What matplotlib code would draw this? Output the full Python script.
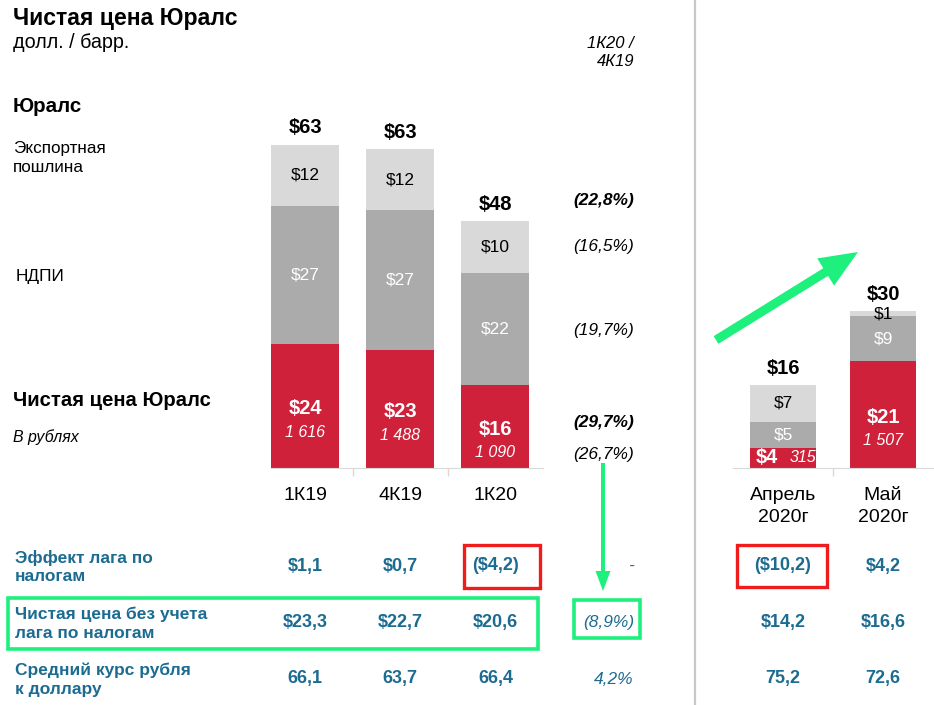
# %% Import and Define
import matplotlib.pyplot as plt
from matplotlib.patches import Rectangle, FancyArrow
from matplotlib.transforms import blended_transform_factory

plt.rcParams['font.family'] = ['Liberation Sans', 'DejaVu Sans']

# %% Data
quarters = ['1К19', '4К19', '1К20']
q_net = [24.3, 23.2, 16.3]
q_ndpi = [27.1, 27.3, 22.0]
q_duty = [12.0, 12.1, 10.1]
q_rub = ['1 616', '1 488', '1 090']

months = ['Апрель\n2020г', 'Май\n2020г']
m_net = [3.9, 20.6]
m_ndpi = [5.0, 8.6]
m_duty = [7.1, 0.9]
m_rub = ['315', '1 507']

change_head = '1К20 /\n4К19'
change_labels = ['(22,8%)', '(16,5%)', '(19,7%)', '(29,7%)', '(26,7%)']

row_names = ['Эффект лага по\nналогам',
             'Чистая цена без учета\nлага по налогам',
             'Средний курс рубля\nк доллару']
lag_q = ['$1,1', '$0,7', '($4,2)']
lag_m = ['($10,2)', '$4,2']
lag_chg = '-'
clean_q = ['$23,3', '$22,7', '$20,6']
clean_m = ['$14,2', '$16,6']
clean_chg = '(8,9%)'
fx_q = ['66,1', '63,7', '66,4']
fx_m = ['75,2', '72,6']
fx_chg = '4,2%'

# colours
RED = '#D0213B'
MID = '#ABABAB'
LIGHT = '#D9D9D9'
BLUE = '#1C6B91'
GREEN = '#1DF07C'
BOXRED = '#EE1C1C'
NARROW = ['Liberation Sans Narrow', 'Liberation Sans']

W, H = 934, 705


# %% Functions
def draw_stack(ax, net, ndpi, duty, rub, width):
    x = list(range(len(net)))
    ax.bar(x, net, width, color=RED, zorder=2)
    ax.bar(x, ndpi, width, bottom=net, color=MID, zorder=2)
    base2 = [a + b for a, b in zip(net, ndpi)]
    ax.bar(x, duty, width, bottom=base2, color=LIGHT, zorder=2)
    for i in x:
        total = net[i] + ndpi[i] + duty[i]
        ax.annotate('$%d' % round(total), (i, total), xytext=(0, 12),
                    textcoords='offset points', ha='center', va='center',
                    fontsize=14.5, fontweight='bold')
        ax.text(i, base2[i] + duty[i] / 2, '$%d' % round(duty[i]),
                ha='center', va='center', fontsize=12.5, color='black', zorder=3)
        ax.text(i, net[i] + ndpi[i] / 2, '$%d' % round(ndpi[i]),
                ha='center', va='center', fontsize=12.5, color='white', zorder=3)
        if net[i] < 8:
            # small segment: value and roubles side by side
            ax.annotate('$%d' % round(net[i]), (i, net[i] / 2), xytext=(-12, 0),
                        textcoords='offset points', ha='center', va='center',
                        fontsize=14.5, fontweight='bold', color='white')
            ax.annotate(rub[i], (i, net[i] / 2), xytext=(14, 0),
                        textcoords='offset points', ha='center', va='center',
                        fontsize=11.5, style='italic', color='white')
        else:
            ax.annotate('$%d' % round(net[i]), (i, net[i] / 2), xytext=(0, -2),
                        textcoords='offset points', ha='center', va='center',
                        fontsize=14.5, fontweight='bold', color='white')
            ax.annotate(rub[i], (i, net[i] / 2), xytext=(0, -19),
                        textcoords='offset points', ha='center', va='center',
                        fontsize=11.5, style='italic', color='white')


def style_axis(ax, labels):
    n = len(labels)
    ax.set_xlim(-0.5, n - 0.5)
    for s in ['top', 'right', 'left']:
        ax.spines[s].set_visible(False)
    ax.spines['bottom'].set_color(LIGHT)
    ax.set_yticks([])
    ax.set_xticks(range(n))
    ax.set_xticklabels(labels, fontsize=14)
    for t in ax.get_xticklabels():
        t.set_linespacing(1.42)
    ax.set_xticks([k + 0.5 for k in range(n - 1)], minor=True)
    ax.tick_params(axis='x', which='major', length=0, pad=13.5)
    ax.tick_params(axis='x', which='minor', length=6, color=LIGHT, width=1)


# %% Figure
fig = plt.figure(figsize=(W / 100, H / 100), dpi=100)

ax_q = fig.add_axes([257.5 / W, (H - 468) / H, 285.5 / W, 360 / H])
draw_stack(ax_q, q_net, q_ndpi, q_duty, q_rub, 0.715)
style_axis(ax_q, quarters)
ax_q.set_ylim(0, 360 / 5.1)
ax_q.spines['bottom'].set_bounds(-0.36, 2.5)

ax_m = fig.add_axes([733 / W, (H - 468) / H, 200 / W, 360 / H])
draw_stack(ax_m, m_net, m_ndpi, m_duty, m_rub, 0.66)
style_axis(ax_m, months)
ax_m.set_ylim(0, 360 / 5.2)

# overlay in pixel units for texts, boxes and arrows
ax0 = fig.add_axes([0, 0, 1, 1])
ax0.set_xlim(0, W)
ax0.set_ylim(H, 0)
ax0.axis('off')

# divider
ax0.plot([695, 695], [0, H], color='#C8C8C8', lw=1.6)

# headings on the left
ax0.text(13, 19, 'Чистая цена Юралс', fontsize=16.6, fontweight='bold', va='center')
ax0.text(13, 43, 'долл. / барр.', fontsize=14.2, va='center')
ax0.text(13, 106, 'Юралс', fontsize=14.8, fontweight='bold', va='center')
ax0.text(13, 158, 'Экспортная\nпошлина', fontsize=12.3, va='center', linespacing=1.3)
ax0.text(16, 276, 'НДПИ', fontsize=12.4, va='center')
ax0.text(13, 401, 'Чистая цена Юралс', fontsize=14.6, fontweight='bold', va='center')
ax0.text(13, 437, 'В рублях', fontsize=11.4, style='italic', va='center')

# change column
ax0.text(634, 53, change_head, fontsize=12, style='italic', ha='right', va='center',
         linespacing=1.25)
chg_y = [200, 247, 330, 423, 455]
chg_bold = [True, False, False, True, False]
for lab, y, b in zip(change_labels, chg_y, chg_bold):
    ax0.text(634, y, lab, fontsize=12.5, style='italic', ha='right', va='center',
             fontweight='bold' if b else 'normal')

# table
trans_q = blended_transform_factory(ax_q.transData, ax0.transData)
trans_m = blended_transform_factory(ax_m.transData, ax0.transData)
row_y = [566, 623, 679]
rows_q = [lag_q, clean_q, fx_q]
rows_m = [lag_m, clean_m, fx_m]
rows_chg = [lag_chg, clean_chg, fx_chg]
for name, y, vq, vm, vc in zip(row_names, row_y, rows_q, rows_m, rows_chg):
    ax0.text(15, y + 1, name, fontsize=12.5, fontweight='bold', color=BLUE,
             va='center', linespacing=1.3, family=NARROW)
    for i, v in enumerate(vq):
        ax0.text(i, y, v, transform=trans_q, fontsize=13, fontweight='bold',
                 color=BLUE, ha='center', va='center', family=NARROW)
    for i, v in enumerate(vm):
        ax0.text(i, y, v, transform=trans_m, fontsize=13, fontweight='bold',
                 color=BLUE, ha='center', va='center', family=NARROW)
    ax0.text(634, y, vc, fontsize=12.5, style='italic', color=BLUE,
             ha='right', va='center', family=NARROW)

# highlight boxes
ax0.add_patch(Rectangle((464, 545), 76, 43, fill=False, ec=BOXRED, lw=2.4))
ax0.add_patch(Rectangle((737, 545), 90, 42, fill=False, ec=BOXRED, lw=2.4))
ax0.add_patch(Rectangle((8, 598), 530, 51, fill=False, ec=GREEN, lw=2.6))
ax0.add_patch(Rectangle((574, 600), 66, 38, fill=False, ec=GREEN, lw=2.6))

# arrows
ax0.add_patch(FancyArrow(603, 463, 0, 128, width=4, head_width=15, head_length=20,
                         length_includes_head=True, color=GREEN, lw=0))
ax0.add_patch(FancyArrow(716, 340, 142, -88, width=9, head_width=32, head_length=38,
                         length_includes_head=True, color=GREEN, lw=0))

fig.savefig('out.png', dpi=100)
